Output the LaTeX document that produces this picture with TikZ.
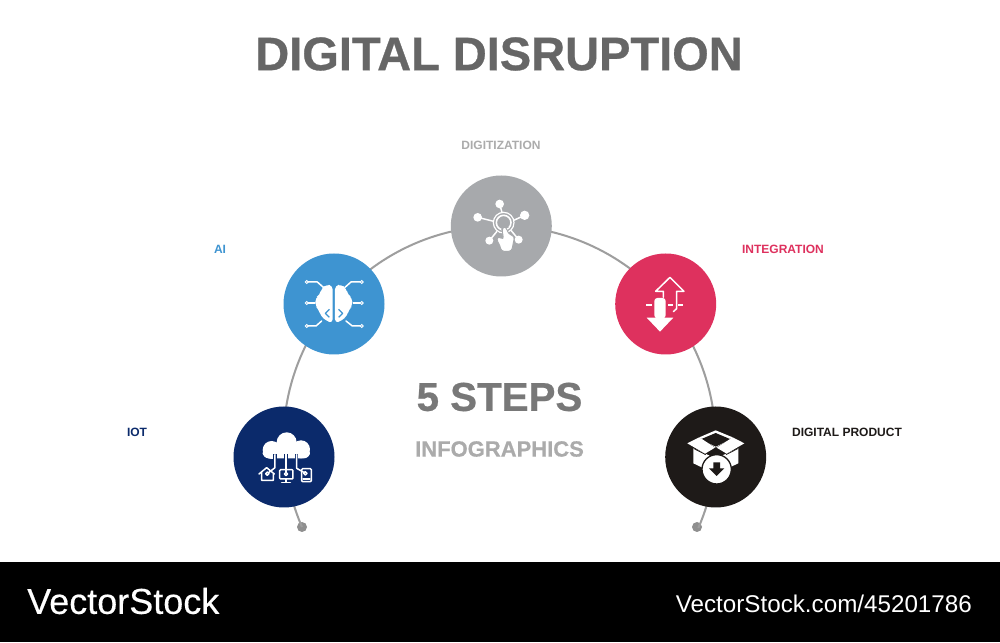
\documentclass[tikz,border=0pt]{standalone}
\usepackage{fontspec}
\setmainfont{Liberation Sans}
\newfontfamily\heavyfont[FakeBold=0.6]{Liberation Sans Bold}
\newfontfamily\brandfont[FakeBold=0.35]{Liberation Sans}
\definecolor{iotc}{HTML}{0B2A6B}
\definecolor{aic}{HTML}{3E94D1}
\definecolor{digc}{HTML}{A7A9AC}
\definecolor{intc}{HTML}{DE315E}
\definecolor{prodc}{HTML}{1E1A18}
\definecolor{linkc}{HTML}{9E9E9E}
\definecolor{dotc}{HTML}{8F8F8F}
\tikzset{
  stepdisc/.style={circle,minimum size=101pt,inner sep=0pt,draw=none},
  enddot/.style={circle,minimum size=10pt,inner sep=0pt,fill=dotc},
  link/.style={draw=linkc,line width=2pt},
  steplabel/.style={font=\fontsize{12}{12}\selectfont\bfseries,inner sep=0pt},
  zoomed/.style={x=0.3333pt,y=-0.3333pt},
  wl/.style={draw=white,line width=1.5pt,line cap=round,line join=round},
}
\begin{document}
\begin{tikzpicture}[x=1pt,y=1pt]
\useasboundingbox (0,0) rectangle (1000,642);
\fill[white] (0,0) rectangle (1000,642);
\fill[black] (0,0) rectangle (1000,80);
\node[font=\fontsize{47}{50}\heavyfont,text=black!60,inner sep=0pt] (title) at (499,588) {DIGITAL DISRUPTION};
\node[font=\fontsize{40.3}{42}\heavyfont,text=black!53,inner sep=0pt] (steps) at (499.5,245) {5 STEPS};
\node[font=\fontsize{22}{25}\heavyfont,text=black!33,inner sep=0pt] (info) at (499.5,193) {INFOGRAPHICS};
\node[font=\fontsize{36}{38}\brandfont,text=white,inner sep=0pt,anchor=west] (brand) at (27,41) {VectorStock};
\node[font=\fontsize{24.2}{25}\selectfont,text=white,inner sep=0pt,anchor=east] (ref) at (972,38) {VectorStock.com/45201786};
\node[steplabel,text=black!33] (l3) at (501,496.5) {DIGITIZATION};
\node[steplabel,text=aic] (l2) at (220,392.5) {AI};
\node[steplabel,text=intc] (l4) at (783,392.5) {INTEGRATION};
\node[steplabel,text=iotc] (l1) at (137,209.5) {IOT};
\node[steplabel,text=prodc] (l5) at (847,209.5) {DIGITAL PRODUCT};
% disc positions
\coordinate (p1) at (284,185);
\coordinate (p2) at (334,338);
\coordinate (p3) at (501.3,416);
\coordinate (p4) at (665.7,338);
\coordinate (p5) at (715.7,185);
\node[enddot] (dl) at (302,115) {};
\node[enddot] (dr) at (697,115) {};
% connectors along one circle, centre (500,201), radius 216
\draw[link] (dl.center) arc[start angle=203.5,end angle=184.2,radius=216];
\draw[link] (p1) arc[start angle=184.2,end angle=140.3,radius=216];
\draw[link] (p2) arc[start angle=140.3,end angle=90,radius=216];
\draw[link] (p3) arc[start angle=90,end angle=39.7,radius=216];
\draw[link] (p4) arc[start angle=39.7,end angle=-4,radius=216];
\draw[link] (p5) arc[start angle=-4,end angle=-23.5,radius=216];
\node[stepdisc,fill=iotc] (n1) at (p1) {};
\node[stepdisc,fill=aic] (n2) at (p2) {};
\node[stepdisc,fill=digc] (n3) at (p3) {};
\node[stepdisc,fill=intc] (n4) at (p4) {};
\node[stepdisc,fill=prodc] (n5) at (p5) {};
% IOT icon
\begin{scope}[shift={(230,242)},zoomed]
  \fill[white] (125,150) circle (27) (170,127) circle (30) (213,148) circle (27);
  \fill[white,rounded corners=6pt] (98,145) rectangle (240,175);
  \foreach \lx in {135,168,200} \draw[iotc,line width=3.4pt] (\lx,162) -- (\lx,176);
  \draw[wl] (135,164) -- (135,203) -- (112,221);
  \draw[wl] (168,156) -- (168,222);
  \draw[wl] (200,164) -- (200,205) -- (225,219);
  \draw[wl] (87,222) -- (110,203) -- (133,222) (95,216) -- (95,241) -- (130,241) -- (130,222);
  \draw[wl,fill=iotc] (112,221) circle (5);
  \draw[wl,rounded corners=1pt] (149,209) rectangle (189,237);
  \draw[wl] (168,237) -- (168,246) (155,247) -- (181,247);
  \draw[wl,fill=iotc] (168,222) circle (5);
  \draw[wl,rounded corners=1pt] (215,206) rectangle (244,245);
  \draw[wl] (219,237) -- (240,237);
  \draw[wl,fill=iotc] (226,220) circle (5);
\end{scope}
% AI icon
\begin{scope}[shift={(280,392)},zoomed]
  \draw[wl] (84,96) -- (112,96) -- (130,112);
  \draw[wl] (84,159) -- (105,159);
  \draw[wl] (84,228) -- (108,228) -- (125,213);
  \draw[wl] (241,96) -- (213,96) -- (195,112);
  \draw[wl] (241,159) -- (220,159);
  \draw[wl] (241,228) -- (217,228) -- (198,213);
  \foreach \dx/\dy in {80/96,80/159,80/228,245/96,245/159,245/228}
    \draw[draw=white,line width=.9pt,fill=aic] (\dx,\dy) circle (4.5);
  \fill[white,rounded corners=4pt] (158,106) -- (138,104) -- (124,116) -- (120,134) -- (106,144) -- (106,168) -- (116,178) -- (122,198) -- (138,212) -- (158,220) -- cycle;
  \fill[white,rounded corners=4pt] (165,106) -- (185,104) -- (199,116) -- (203,134) -- (217,144) -- (217,168) -- (207,178) -- (201,198) -- (185,212) -- (165,220) -- cycle;
  \draw[aic,line width=1.2pt,line join=round] (148,178) -- (136,190) -- (148,202);
  \draw[aic,line width=1.2pt,line join=round] (176,178) -- (188,190) -- (176,202);
\end{scope}
% Digitization icon
\begin{scope}[shift={(447,470)},zoomed]
  \draw[white,line width=1.5pt] (158,96) -- (166,125) (92,136) -- (140,148) (233,130) -- (198,146) (127,206) -- (150,178) (215,203) -- (192,175);
  \fill[white] (158,96) circle (13) (92,136) circle (13) (233,130) circle (14) (127,206) circle (12) (215,203) circle (12);
  \fill[digc] (170,152) circle (32);
  \draw[white,line width=1.2pt] (170,152) circle (31);
  \draw[white,line width=1.6pt] (170,152) circle (22);
  \fill[white,draw=digc,line width=.9pt,rounded corners=3pt] (165,172) -- (170,163) -- (178,166) -- (184,186) -- (203,193) -- (199,212) -- (194,238) -- (162,238) -- (160,222) -- (148,203) -- (153,193) -- (170,203) -- cycle;
\end{scope}
% Integration icon
\begin{scope}[shift={(610,392)},zoomed]
  \draw[wl] (160,142) -- (160,124) -- (137,124) -- (180,82) -- (222,124) -- (200,124) -- (200,176) -- (190,185);
  \fill[white,rounded corners=3pt] (133,205) -- (133,144) -- (167,144) -- (167,205) -- cycle;
  \fill[white] (110,203) -- (190,203) -- (150,245) -- cycle;
  \draw[white,line width=1.4pt] (108,165) -- (125,165) (175,165) -- (190,165) (205,165) -- (220,165);
\end{scope}
% Digital product icon
\begin{scope}[shift={(660,242)},zoomed]
  \fill[white] (100,145) -- (167,175) -- (235,145) -- (235,190) -- (167,222) -- (100,190) -- cycle;
  \fill[white] (118,112) -- (167,91) -- (218,112) -- (167,143) -- cycle;
  \fill[prodc] (122,118) -- (167,99) -- (212,118) -- (167,140) -- cycle;
  \fill[white] (82,130) -- (118,112) -- (165,143) -- (135,161) -- cycle;
  \fill[white] (253,130) -- (218,112) -- (170,143) -- (200,161) -- cycle;
  \draw[prodc,line width=.8pt] (167,143) -- (148,170) (167,143) -- (187,170) (102,146) -- (137,164) (233,146) -- (198,164);
  \fill[white,draw=prodc,line width=1.3pt] (170,208) circle (44);
  \fill[prodc] (160,187) -- (180,187) -- (180,205) -- (193,205) -- (170,228) -- (147,205) -- (160,205) -- cycle;
\end{scope}
\end{tikzpicture}
\end{document}
